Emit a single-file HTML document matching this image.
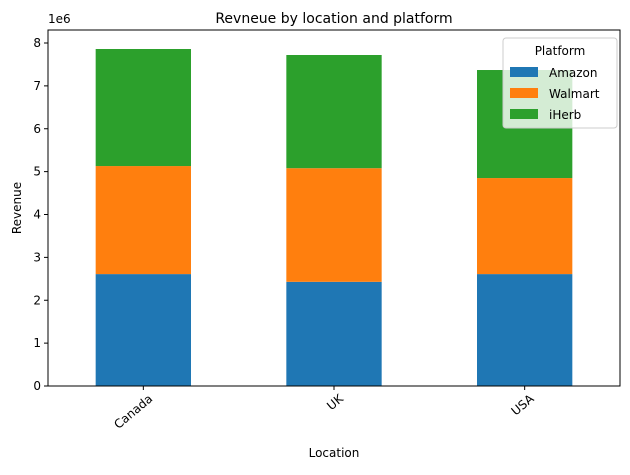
<!DOCTYPE html>
<html><head><meta charset="utf-8"><style>
body{margin:0;background:#fff;font-family:"Liberation Sans","DejaVu Sans",sans-serif}
svg text{font-family:"DejaVu Sans","Liberation Sans",sans-serif}
</style></head><body>
<svg id="chart" width="630" height="470" xmlns="http://www.w3.org/2000/svg"></svg>
<script>
const categories=["Canada","UK","USA"];
const seriesNames=["Amazon","Walmart","iHerb"];
const amazon=[2.61,2.43,2.61];
const walmart=[2.52,2.65,2.24];
const iherb=[2.73,2.64,2.52];
const yTicks=[0,1,2,3,4,5,6,7,8];
const colors=["#1f77b4","#ff7f0e","#2ca02c"];
const series=[amazon,walmart,iherb];
const L=48,R=620,T=30,B=386;
const ys=v=>B-(v/8)*(B-43);
const xs=i=>L+(i+0.5)*(R-L)/3;
const bw=(R-L)/3*0.5;
const svg=document.getElementById('chart');
const NS="http://www.w3.org/2000/svg";
function mk(tag,attrs,txt){const e=document.createElementNS(NS,tag);for(const k in attrs)e.setAttribute(k,attrs[k]);if(txt!=null)e.textContent=txt;svg.appendChild(e);return e;}
categories.forEach((c,i)=>{let base=0;series.forEach((s,j)=>{
 const r=mk('rect',{x:xs(i)-bw/2,y:ys(base+s[i]),width:bw,height:ys(base)-ys(base+s[i]),fill:colors[j]});
 
 
 base+=s[i];});
 const t=mk('line',{x1:xs(i),x2:xs(i),y1:B,y2:B+4,stroke:'#000'});
 
 
 const lx=xs(i)+10,ly=B+14;
 const lb=mk('text',{x:lx,y:ly,'font-size':12,'text-anchor':'end',transform:`rotate(-40 ${lx} ${ly})`},c);
 
 
});
yTicks.forEach(v=>{
 const t=mk('line',{x1:L-4,x2:L,y1:ys(v),y2:ys(v),stroke:'#000'});
 
 
 const lb=mk('text',{x:L-7,y:ys(v)+4,'font-size':12,'text-anchor':'end'},v);
 
 
});
const fr=mk('rect',{x:L,y:T,width:R-L,height:B-T,fill:'none',stroke:'#000','stroke-width':1});


</script>
<svg width="630" height="470" style="position:absolute;left:0;top:0" xmlns="http://www.w3.org/2000/svg">
<text x="334" y="23" font-size="14" text-anchor="middle">Revneue by location and platform</text>
<text x="48" y="23" font-size="12">1e6</text>
<text x="334" y="457" font-size="12" text-anchor="middle">Location</text>
<text x="21" y="208" font-size="12" text-anchor="middle" transform="rotate(-90 21 208)">Revenue</text>
<g>
<rect x="503" y="38" width="114" height="90" rx="3" fill="#fff" fill-opacity="0.8" stroke="#ccc"/>
<text x="560" y="55" font-size="12" text-anchor="middle">Platform</text>
<rect x="510" y="67" width="28" height="10" fill="#1f77b4"/><text x="549" y="77" font-size="12">Amazon</text>
<rect x="510" y="88" width="28" height="10" fill="#ff7f0e"/><text x="549" y="98" font-size="12">Walmart</text>
<rect x="510" y="109" width="28" height="10" fill="#2ca02c"/><text x="549" y="119" font-size="12">iHerb</text>
</g>
</svg>
</body></html>
